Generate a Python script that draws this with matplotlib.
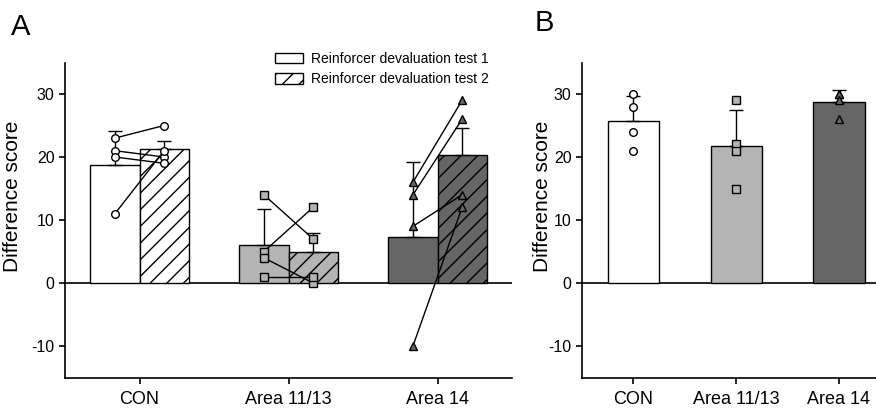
import numpy as np
import matplotlib
matplotlib.use("Agg")
import matplotlib.pyplot as plt
from matplotlib.patches import Patch

plt.rcParams['font.family'] = ['Liberation Sans', 'DejaVu Sans']
plt.rcParams['hatch.linewidth'] = 1.0
plt.rcParams['axes.unicode_minus'] = False

groups = ["CON", "Area 11/13", "Area 14"]
bar_colors = ["#ffffff", "#b4b4b4", "#666666"]
markers = ["o", "s", "^"]
marker_faces = ["#ffffff", "#b4b4b4", "#666666"]

# panel A: individual scores, paired test 1 -> test 2
test1_pts = [[23, 21, 20, 11], [14, 5, 4, 1], [16, 14, 9, -10]]
test2_pts = [[25, 20, 19, 21], [7, 12, 0, 1], [29, 26, 14, 12]]
test1_mean = [18.75, 6.0, 7.25]
test2_mean = [21.25, 5.0, 20.25]
test1_err = [5.3, 5.7, 12.0]
test2_err = [1.3, 2.9, 4.3]

# panel B
b_pts = [[30, 28, 24, 21], [29, 22, 21, 15], [30, 30, 29, 26]]
b_mean = [25.75, 21.75, 28.75]
b_err = [3.9, 5.75, 1.9]


def style_axis(ax, xmax, label_x):
    ax.set_ylim(-15, 35)
    ax.set_xlim(-0.5, xmax)
    ax.spines['top'].set_visible(False)
    ax.spines['right'].set_visible(False)
    ax.spines['left'].set_linewidth(1.2)
    ax.spines['bottom'].set_linewidth(1.2)
    ax.set_yticks([-10, 0, 10, 20, 30])
    ax.set_xticks(range(len(groups)))
    ax.set_xticklabels(groups)
    ax.tick_params(axis='both', direction='out', length=4, width=1.2)
    ax.tick_params(axis='y', labelsize=11.5)
    ax.tick_params(axis='x', labelsize=13, pad=6)
    ax.axhline(0, color='black', lw=1.2, zorder=1)
    ax.set_ylabel("Difference score", fontsize=15)
    ax.yaxis.set_label_coords(label_x, 0.576)


fig = plt.figure(figsize=(8.76, 4.12), dpi=100)
axA = fig.add_axes([0.0742, 0.0837, 0.5103, 0.7646])
axB = fig.add_axes([0.6644, 0.0837, 0.3356, 0.7646])

x = np.arange(len(groups))
w = 0.33

# ---- panel A
for i in range(len(groups)):
    axA.bar(x[i] - w / 2, test1_mean[i], w, color=bar_colors[i], edgecolor='black',
            lw=1.0, zorder=2)
    axA.bar(x[i] + w / 2, test2_mean[i], w, color=bar_colors[i], edgecolor='black',
            lw=1.0, hatch='//', zorder=2)
    axA.errorbar(x[i] - w / 2, test1_mean[i], yerr=[[0], [test1_err[i]]], color='black',
                 lw=1.0, capsize=5, capthick=1.0, zorder=3)
    axA.errorbar(x[i] + w / 2, test2_mean[i], yerr=[[0], [test2_err[i]]], color='black',
                 lw=1.0, capsize=5, capthick=1.0, zorder=3)
    for a, b in zip(test1_pts[i], test2_pts[i]):
        axA.plot([x[i] - w / 2, x[i] + w / 2], [a, b], color='black', lw=1.0,
                 marker=markers[i], ms=5.5, mfc=marker_faces[i], mec='black',
                 mew=1.0, zorder=4)

style_axis(axA, 2.5, -0.096)

handles = [Patch(facecolor='white', edgecolor='black', lw=1.0),
           Patch(facecolor='white', edgecolor='black', lw=1.0, hatch='//')]
axA.legend(handles, ["Reinforcer devaluation test 1", "Reinforcer devaluation test 2"],
           loc='upper left', bbox_to_anchor=(0.47, 1.034), frameon=False,
           fontsize=10, handlelength=2.0, handleheight=0.8, handletextpad=0.6,
           labelspacing=0.45, borderaxespad=0, borderpad=0)

# ---- panel B
wb = 0.5
for i in range(len(groups)):
    axB.bar(x[i], b_mean[i], wb, color=bar_colors[i], edgecolor='black', lw=1.0, zorder=2)
    axB.errorbar(x[i], b_mean[i], yerr=[[0], [b_err[i]]], color='black', lw=1.0,
                 capsize=5, capthick=1.0, zorder=3)
    axB.plot([x[i]] * len(b_pts[i]), b_pts[i], ls='none', marker=markers[i], ms=5.5,
             mfc=marker_faces[i], mec='black', mew=1.0, zorder=4)

style_axis(axB, 2.36, -0.102)

fig.text(0.012, 0.968, "A", fontsize=21, va='top')
fig.text(0.610, 0.978, "B", fontsize=21, va='top')

fig.savefig("out.png", dpi=100)
